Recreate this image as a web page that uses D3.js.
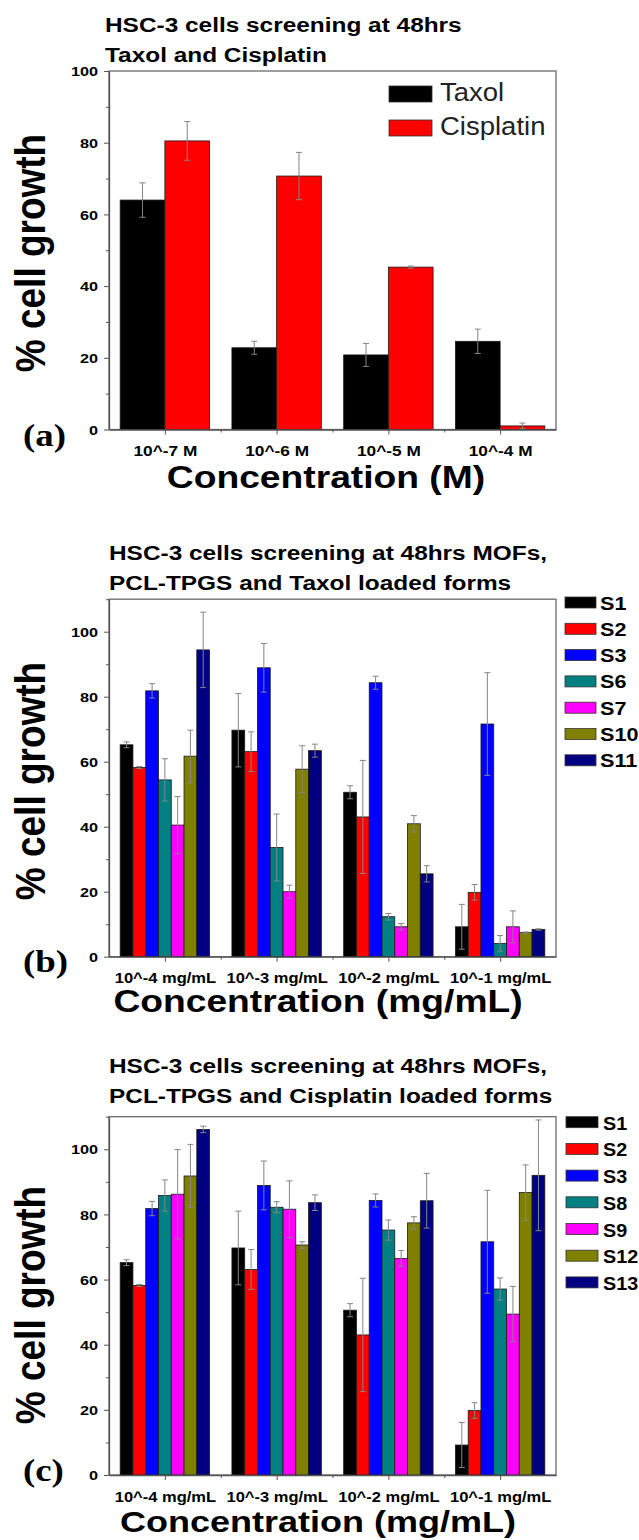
<!DOCTYPE html>
<html>
<head>
<meta charset="utf-8">
<script src="https://cdn.jsdelivr.net/npm/d3@7"></script>
<style>
  body { margin: 0; background: #fff; }
  svg { display: block; }
</style>
</head>
<body>
<div id="chart"></div>
<script>
// ---- data ----
const concM = ["10^-7 M", "10^-6 M", "10^-5 M", "10^-4 M"];
const concMg = ["10^-4 mg/mL", "10^-3 mg/mL", "10^-2 mg/mL", "10^-1 mg/mL"];

// panel (a)
const taxol = [64.0, 22.8, 20.8, 24.6];
const taxolErr = [4.8, 1.8, 3.2, 3.4];
const cisplatin = [80.5, 70.7, 45.3, 1.0];
const cisplatinErr = [5.4, 6.6, 0.3, 0.8];

// shared S1-S3
const s1 = [65.2, 69.7, 50.6, 9.2], s1Err = [0.9, 11.3, 2.0, 6.9];
const s2 = [58.2, 63.1, 43.0, 19.8], s2Err = [0.3, 6.1, 17.4, 2.4];
const s3 = [81.8, 88.9, 84.3, 71.6], s3Err = [2.2, 7.5, 2.0, 15.8];

// panel (b) taxol loaded
const s6 = [54.4, 33.6, 12.3, 4.1], s6Err = [6.5, 10.3, 1.0, 2.4];
const s7 = [40.5, 20.0, 9.2, 9.2], s7Err = [8.8, 2.0, 1.0, 4.9];
const s10 = [61.7, 57.7, 40.9, 7.4], s10Err = [8.0, 7.2, 2.5, 0.2];
const s11 = [94.4, 63.4, 25.5, 8.4], s11Err = [11.6, 2.0, 2.5, 0.2];

// panel (c) cisplatin loaded
const s8 = [85.8, 82.2, 75.2, 57.1], s8Err = [4.8, 1.7, 3.1, 3.4];
const s9 = [86.2, 81.6, 66.5, 49.4], s9Err = [13.7, 8.7, 2.4, 8.5];
const s12 = [91.8, 70.6, 77.4, 86.7], s12Err = [9.7, 1.0, 1.9, 8.5];
const s13 = [106.1, 83.6, 84.2, 92.0], s13Err = [1.0, 2.4, 8.4, 17.0];

const colors = {
  black: "#000000", red: "#ff0000", blue: "#0000ff", teal: "#008080",
  magenta: "#ff00ff", olive: "#808000", navy: "#000080"
};

const width = 639, height = 1540;
const sans = "'Liberation Sans', Arial, sans-serif";

const svg = d3.select("#chart").append("svg")
  .attr("width", width)
  .attr("height", height);

// figure is stretched horizontally, so widen glyphs to fit
function stretch(sel, k) {
  sel.each(function () {
    const w = this.getComputedTextLength();
    d3.select(this).attr("textLength", w * k).attr("lengthAdjust", "spacingAndGlyphs");
  });
}

function drawPanel(cfg) {
  const g = svg.append("g");

  const x = d3.scaleLinear().domain([0.5, 4.5]).range([109, 556]);
  const y = d3.scaleLinear().domain([0, cfg.yMax]).range([cfg.y0, cfg.yTop]);

  // frame
  g.append("rect")
    .attr("x", x(0.5)).attr("y", y(cfg.yMax))
    .attr("width", x(4.5) - x(0.5)).attr("height", y(0) - y(cfg.yMax))
    .attr("fill", "none").attr("stroke", "#6a6a6a").attr("stroke-width", 1.3);

  // bars
  const step = x(2) - x(1);
  const groupW = step * 0.8;
  const names = cfg.series.map(s => s.name);
  const inner = d3.scaleBand().domain(names).range([-groupW / 2, groupW / 2]);

  const rows = [];
  cfg.series.forEach(s => {
    s.values.forEach((v, i) => rows.push({ name: s.name, color: s.color, cat: i + 1, v: v, e: s.errors[i] }));
  });

  g.append("g").selectAll("rect")
    .data(rows)
    .join("rect")
    .attr("x", d => x(d.cat) + inner(d.name))
    .attr("y", d => y(d.v))
    .attr("width", inner.bandwidth())
    .attr("height", d => y(0) - y(d.v))
    .attr("fill", d => d.color)
    .attr("stroke", "#1a1a1a")
    .attr("stroke-width", 0.8);

  // error bars
  const eb = g.append("g").attr("stroke", "#858585").attr("stroke-width", 1);
  rows.forEach(d => {
    const cx = x(d.cat) + inner(d.name) + inner.bandwidth() / 2;
    const lo = Math.max(0, d.v - d.e), hi = d.v + d.e;
    eb.append("line").attr("x1", cx).attr("x2", cx).attr("y1", y(lo)).attr("y2", y(hi));
    eb.append("line").attr("x1", cx - 3).attr("x2", cx + 3).attr("y1", y(hi)).attr("y2", y(hi));
    eb.append("line").attr("x1", cx - 3).attr("x2", cx + 3).attr("y1", y(lo)).attr("y2", y(lo));
  });

  // y axis
  const majorY = d3.range(0, cfg.yMax + 1, 20);
  const minorY = d3.range(10, cfg.yMax + 1, 20);
  const yAxis = g.append("g")
    .attr("transform", `translate(${x(0.5)},0)`)
    .call(d3.axisLeft(y).tickValues(majorY).tickSize(5).tickSizeOuter(0).tickPadding(6));
  g.append("g")
    .attr("transform", `translate(${x(0.5)},0)`)
    .call(d3.axisLeft(y).tickValues(minorY).tickFormat("").tickSize(3).tickSizeOuter(0))
    .call(a => a.select(".domain").remove());

  yAxis.selectAll("text")
    .attr("font-family", sans).attr("font-weight", "bold").attr("font-size", 13)
    .attr("fill", "#000").attr("dy", "0.36em");
  stretch(yAxis.selectAll("text"), 1.25);

  // x axis
  const xAxis = g.append("g")
    .attr("transform", `translate(0,${y(0)})`)
    .call(d3.axisBottom(x).tickValues([1, 2, 3, 4]).tickFormat(i => cfg.cats[i - 1]).tickSize(5).tickSizeOuter(0));
  g.append("g")
    .attr("transform", `translate(0,${y(0)})`)
    .call(d3.axisBottom(x).tickValues([1.5, 2.5, 3.5]).tickFormat("").tickSize(3).tickSizeOuter(0))
    .call(a => a.select(".domain").remove());

  xAxis.selectAll("text")
    .attr("font-family", sans).attr("font-weight", "bold").attr("font-size", 15)
    .attr("fill", "#000").attr("y", 26.5).attr("dy", null);
  stretch(xAxis.selectAll("text"), cfg.tickK);

  g.selectAll(".domain").attr("stroke", "#555").attr("stroke-width", 1.3);
  g.selectAll(".tick line").attr("stroke", "#555").attr("stroke-width", 1);

  // title
  cfg.title.forEach((t, i) => {
    const tt = g.append("text")
      .attr("x", cfg.titleX).attr("y", cfg.titleY + i * 30)
      .attr("font-family", sans).attr("font-weight", "bold").attr("font-size", 20)
      .text(t);
    stretch(tt, 1.22);
  });

  // axis titles
  const xt = g.append("text")
    .attr("x", cfg.xTitleX).attr("y", y(0) + cfg.xTitleDy)
    .attr("text-anchor", "middle")
    .attr("font-family", sans).attr("font-weight", "bold").attr("font-size", cfg.xTitleSize)
    .text(cfg.xTitle);
  stretch(xt, 1.2);

  g.append("text")
    .attr("transform", `translate(45,${cfg.yLabelY}) scale(1.15,1) rotate(-90)`)
    .attr("text-anchor", "middle")
    .attr("font-family", sans).attr("font-weight", "bold").attr("font-size", 37)
    .text("% cell growth");

  const lt = g.append("text")
    .attr("x", 23).attr("y", y(0) + cfg.letterDy)
    .attr("font-family", "'Liberation Serif', 'Times New Roman', serif")
    .attr("font-weight", "bold").attr("font-size", 32)
    .text(cfg.letter);
  stretch(lt, 1.15);

  // legend
  const L = cfg.legend;
  const lg = g.append("g");
  cfg.series.forEach((s, i) => {
    const top = L.top + i * L.gap;
    lg.append("rect")
      .attr("x", L.x).attr("y", top).attr("width", L.w).attr("height", L.h)
      .attr("fill", s.color).attr("stroke", "#333").attr("stroke-width", 0.8);
    const t = lg.append("text")
      .attr("x", L.tx).attr("y", top + L.h + L.baseDy)
      .attr("font-family", sans).attr("font-weight", L.weight).attr("font-size", L.size)
      .attr("fill", L.fill)
      .text(s.name);
    stretch(t, L.k);
  });
}

drawPanel({
  cats: concM,
  series: [
    { name: "Taxol", color: colors.black, values: taxol, errors: taxolErr },
    { name: "Cisplatin", color: colors.red, values: cisplatin, errors: cisplatinErr }
  ],
  yMax: 100, y0: 429.5, yTop: 71,
  title: ["HSC-3 cells screening at 48hrs", "Taxol and Cisplatin"],
  titleX: 105, titleY: 31.7,
  xTitle: "Concentration (M)", xTitleX: 326, xTitleDy: 58, xTitleSize: 31,
  yLabelY: 253, letter: "(a)", letterDy: 16, tickK: 1.15,
  legend: { x: 389, w: 43, h: 16, top: 86, gap: 34, tx: 440, baseDy: -1, size: 25, weight: "normal", fill: "#222", k: 1.1 }
});

drawPanel({
  cats: concMg,
  series: [
    { name: "S1", color: colors.black, values: s1, errors: s1Err },
    { name: "S2", color: colors.red, values: s2, errors: s2Err },
    { name: "S3", color: colors.blue, values: s3, errors: s3Err },
    { name: "S6", color: colors.teal, values: s6, errors: s6Err },
    { name: "S7", color: colors.magenta, values: s7, errors: s7Err },
    { name: "S10", color: colors.olive, values: s10, errors: s10Err },
    { name: "S11", color: colors.navy, values: s11, errors: s11Err }
  ],
  yMax: 110, y0: 956.7, yTop: 599.2,
  title: ["HSC-3 cells screening at 48hrs MOFs,", "PCL-TPGS and Taxol loaded forms"],
  titleX: 109, titleY: 560,
  xTitle: "Concentration (mg/mL)", xTitleX: 318, xTitleDy: 55, xTitleSize: 31,
  yLabelY: 781, letter: "(b)", letterDy: 15, tickK: 1.1,
  legend: { x: 565, w: 31, h: 11, top: 597, gap: 26.3, tx: 600, baseDy: 1.5, size: 18, weight: "bold", fill: "#000", k: 1.2 }
});

drawPanel({
  cats: concMg,
  series: [
    { name: "S1", color: colors.black, values: s1, errors: s1Err },
    { name: "S2", color: colors.red, values: s2, errors: s2Err },
    { name: "S3", color: colors.blue, values: s3, errors: s3Err },
    { name: "S8", color: colors.teal, values: s8, errors: s8Err },
    { name: "S9", color: colors.magenta, values: s9, errors: s9Err },
    { name: "S12", color: colors.olive, values: s12, errors: s12Err },
    { name: "S13", color: colors.navy, values: s13, errors: s13Err }
  ],
  yMax: 110, y0: 1475, yTop: 1116.7,
  title: ["HSC-3 cells screening at 48hrs MOFs,", "PCL-TPGS and Cisplatin loaded forms"],
  titleX: 109, titleY: 1073,
  xTitle: "Concentration (mg/mL)", xTitleX: 318, xTitleDy: 57, xTitleSize: 30,
  yLabelY: 1305, letter: "(c)", letterDy: 6, tickK: 1.1,
  legend: { x: 566, w: 32, h: 11, top: 1116.7, gap: 26.7, tx: 603, baseDy: 2, size: 19, weight: "bold", fill: "#000", k: 1.04 }
});
</script>
</body>
</html>
